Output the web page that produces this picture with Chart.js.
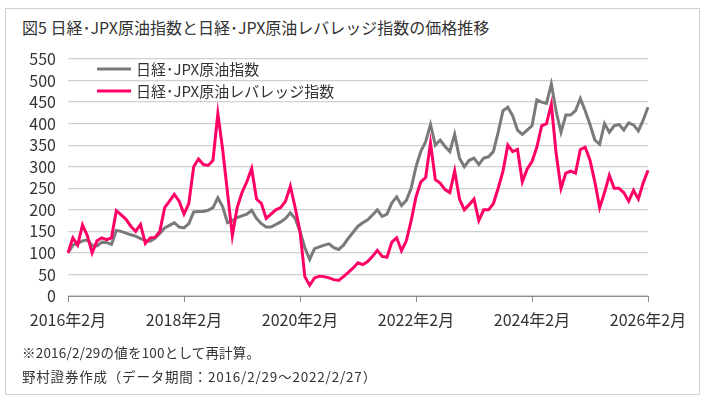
<!DOCTYPE html>
<html lang="ja">
<head>
<meta charset="utf-8">
<script src="https://cdn.jsdelivr.net/npm/chart.js@4.4.0/dist/chart.umd.min.js"></script>
<style>
  html, body { margin: 0; padding: 0; background: #fff; }
  #wrap { position: relative; width: 705px; height: 399px; font-family: "Noto Sans CJK JP", sans-serif; color: #333; }
  #frame { position: absolute; left: 5px; top: 8px; width: 693px; height: 385px; border: 1px solid #d0d0d0; }
  #title { position: absolute; left: 22px; top: 16px; font-size: 16px; line-height: 22px; white-space: nowrap; }
  .note { position: absolute; left: 22px; font-size: 13.5px; line-height: 18px; white-space: nowrap; }
  canvas { position: absolute; left: 0; top: 0; }
</style>
</head>
<body>
<div id="wrap">
  <div id="frame"></div>
  <div id="title">図5 日経･JPX原油指数と日経･JPX原油レバレッジ指数の価格推移</div>
  <canvas id="priceChart" width="705" height="399"></canvas>
  <div class="note" style="top:343px; letter-spacing:0.2px">※2016/2/29の値を100として再計算。</div>
  <div class="note" style="top:367px; letter-spacing:0.8px">野村證券作成（データ期間：2016/2/29～2022/2/27）</div>
</div>
<script>
// monthly readings, 2016/2 .. 2026/2
const seriesNames = ['日経･JPX原油指数', '日経･JPX原油レバレッジ指数'];

const oilIndex = [
  100, 118, 122, 128, 130, 117, 116, 125, 124, 120, 152, 150,
  146, 142, 139, 133, 129, 127, 134, 145, 158, 164, 170, 160,
  158, 168, 195, 196, 196, 199, 205, 228, 207, 170, 175, 182,
  186, 190, 199, 180, 168, 160, 160, 166, 172, 180, 193, 180,
  150, 112, 85, 110, 114, 118, 121, 112, 108, 118, 134, 148,
  162, 170, 177, 188, 200, 185, 190, 216, 230, 210, 222, 250,
  300, 336, 358, 398, 350, 362, 347, 335, 375, 320, 300, 315,
  320, 305, 320, 323, 335, 380, 430, 438, 418, 385, 375, 385,
  395, 455, 450, 447, 492, 428, 380, 420, 420, 430, 458, 430,
  398, 362, 352, 400, 380, 395, 398, 385, 402, 397, 383, 408,
  438
];

const leveragedIndex = [
  100, 135, 118, 165, 140, 100, 128, 135, 131, 135, 198, 188,
  178, 162, 150, 166, 122, 135, 136, 150, 205, 220, 236, 220,
  190, 215, 300, 318, 305, 303, 315, 423, 340, 240, 140, 205,
  240, 265, 296, 225, 215, 180, 190, 200, 205, 220, 255, 205,
  150, 45, 25, 42, 46, 45, 42, 38, 36, 45, 55, 65,
  77, 73, 80, 92, 106, 92, 90, 125, 135, 105, 128, 175,
  230, 265, 275, 355, 270, 262, 247, 240, 290, 225, 200, 212,
  225, 175, 200, 200, 214, 250, 290, 350, 335, 340, 265, 295,
  312, 345, 395, 400, 445, 330, 250, 285, 290, 285, 340, 345,
  315, 265, 205, 240, 280, 250, 250, 240, 220, 245, 225, 262,
  292
];

const months = [];
for (let i = 0; i < oilIndex.length; i++) {
  const t = 1 + i; // 2016/2 start
  months.push((2016 + Math.floor(t / 12)) + '年' + (t % 12 + 1) + '月');
}

const colors = ['#7a7a7a', '#ff0066'];

// legend drawn inside the plot, top-left
const innerLegend = {
  id: 'innerLegend',
  afterDraw(chart) {
    const c = chart.ctx;
    c.save();
    chart.data.datasets.forEach((ds, i) => {
      const y = 69 + i * 22;
      c.strokeStyle = ds.borderColor;
      c.lineWidth = 3;
      c.beginPath();
      c.moveTo(97, y);
      c.lineTo(131, y);
      c.stroke();
      c.fillStyle = '#333';
      c.font = '15px "Noto Sans CJK JP"';
      c.textBaseline = 'middle';
      c.fillText(ds.label, 136, y);
    });
    c.restore();
  }
};

new Chart(document.getElementById('priceChart'), {
  type: 'line',
  data: {
    labels: months,
    datasets: [
      { label: seriesNames[0], data: oilIndex, borderColor: colors[0], borderWidth: 3, pointRadius: 0, order: 1 },
      { label: seriesNames[1], data: leveragedIndex, borderColor: colors[1], borderWidth: 3, pointRadius: 0, order: 0 }
    ]
  },
  options: {
    responsive: false,
    animation: false,
    layout: { padding: { left: 8, right: 57, top: 59, bottom: 63 } },
    plugins: { legend: { display: false }, tooltip: { enabled: false } },
    scales: {
      x: {
        afterFit: (s) => { s.height = 40; },
        grid: { drawOnChartArea: false, tickLength: 6, color: '#8c8c8c' },
        border: { display: true, color: '#8c8c8c' },
        ticks: {
          autoSkip: false, maxRotation: 0, padding: 8, color: '#333',
          font: { family: '"Noto Sans CJK JP"', size: 16 },
          callback: function (v, i) { return i % 24 === 0 ? this.getLabelForValue(v) : null; }
        }
      },
      y: {
        min: 0, max: 550,
        afterFit: (s) => { s.width = 60; },
        grid: { color: '#d0d0d0', lineWidth: 1.3, drawTicks: false },
        border: { display: false },
        ticks: { stepSize: 50, autoSkip: false, padding: 12, color: '#333', font: { family: '"Noto Sans CJK JP"', size: 16 } }
      }
    }
  },
  plugins: [innerLegend]
});
</script>
</body>
</html>
